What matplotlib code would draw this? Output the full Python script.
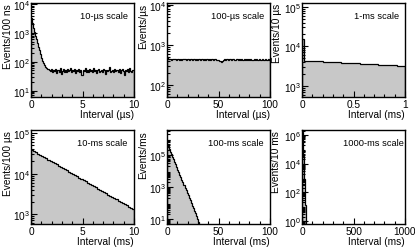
import numpy as np
import matplotlib
matplotlib.use("Agg")
import matplotlib.pyplot as plt
from matplotlib.ticker import LogLocator, FixedLocator, MultipleLocator, NullFormatter, LogFormatterMathtext

plt.rcParams['font.family'] = ['Liberation Sans', 'DejaVu Sans']
plt.rcParams['mathtext.default'] = 'regular'

# ---------------- data ----------------
# panel 1: 10-us scale, 100 ns bins
p1_counts = [3200, 2300, 1500, 1100, 800, 600, 450, 330, 250, 190,
             140, 110, 90, 75, 66, 60, 55, 52,
             48, 55, 44, 52, 47, 58, 41, 50, 53, 45,
             60, 38, 49, 55, 46, 51, 43, 57, 48, 52,
             62, 44, 50, 47, 56, 40, 53, 49, 58, 45,
             51, 36, 54, 48, 61, 46, 50, 43, 55, 49,
             52, 45, 59, 47, 53, 41, 50, 56, 44, 48,
             52, 46, 57, 50, 38, 54, 47, 51, 65, 45,
             49, 53, 44, 58, 48, 51, 46, 55, 42, 50,
             57, 47, 35, 52, 49, 56, 45, 60, 48, 44,
             53, 50]
p1_range = (0, 10)

# panel 2: 100-us scale, 1 us bins
p2_counts = [510, 445, 432, 440, 428, 436, 446, 430, 438, 425,
             441, 433, 428, 445, 420, 437, 430, 442, 426, 435,
             439, 428, 447, 431, 424, 436, 443, 429, 433, 421,
             438, 430, 426, 441, 434, 427, 439, 423, 432, 436,
             428, 444, 425, 433, 438, 422, 430, 435, 427, 419,
             405, 385, 372, 398, 420, 434, 428, 437, 441, 426,
             432, 439, 425, 430, 444, 428, 421, 436, 431, 427,
             438, 424, 433, 429, 418, 435, 427, 431, 422, 437,
             426, 433, 419, 428, 436, 424, 431, 418, 427, 434,
             425, 420, 432, 428, 416, 433, 426, 421, 430, 428]
p2_range = (0, 100)

# panel 3: 1-ms scale
p3_counts = [15000, 4370, 4340, 4310, 4280, 4255, 4225, 4200, 4170, 4145,
             4115, 4090, 4060, 4035, 4010, 3980, 3955, 3930, 3905, 3880,
             3855, 3830, 3805, 3780, 3755, 3730, 3705, 3680, 3660, 3635,
             3610, 3590, 3565, 3540, 3520, 3495, 3475, 3450, 3430, 3405,
             3385, 3360, 3340, 3320, 3300, 3275, 3255, 3235, 3215, 3195]
p3_range = (0, 1)

# panel 4: 10-ms scale
p4_counts = [38500, 35950, 33560, 31340, 29260, 27320, 25510, 23820, 22240, 20770,
             19390, 18100, 16900, 15780, 14740, 13760, 12850, 12000, 11200, 10460,
             9770, 9120, 8515, 7950, 7420, 6930, 6470, 6040, 5640, 5270,
             4920, 4590, 4290, 4000, 3740, 3490, 3260, 3040, 2840, 2650,
             2475, 2310, 2160, 2015, 1880, 1760, 1640, 1530, 1430, 1340]
p4_range = (0, 10)

# panel 5: 100-ms scale, 1 ms bins (non-empty part)
p5_counts = [490000, 339000, 234000, 162000, 112000, 77600, 53700, 37200, 25700, 17800,
             12300, 8510, 5890, 4070, 2820, 1950, 1350, 933, 646, 447,
             309, 214, 148, 102, 71, 49, 34, 23, 16, 11,
             7, 3, 1]
p5_range = (0, 33)

# panel 6: 1000-ms scale, 10 ms bins (non-empty part)
p6_counts = [1500000, 33000, 900, 12]
p6_range = (0, 40)

titles = ['10-\u00b5s scale', '100-\u00b5s scale', '1-ms scale',
          '10-ms scale', '100-ms scale', '1000-ms scale']
ylabels = ['Events/100 ns', 'Events/\u00b5s', 'Events/10 \u00b5s',
           'Events/100 \u00b5s', 'Events/ms', 'Events/10 ms']
xlabels = ['Interval (\u00b5s)', 'Interval (\u00b5s)', 'Interval (ms)',
           'Interval (ms)', 'Interval (ms)', 'Interval (ms)']
xlims = [(0, 10), (0, 100), (0, 1), (0, 10), (0, 100), (0, 1000)]
ylims = [(6, 1.1e4), (50, 1.1e4), (520, 1.25e5), (570, 1.2e5), (5, 3.6e6), (0.6, 2.2e6)]
xmajor = [5, 50, 0.5, 5, 50, 500]
xminor = [1, 10, 0.1, 1, 10, 100]
ymajor_fixed = [None, None, None, None, [1e1, 1e3, 1e5], [1e0, 1e2, 1e4, 1e6]]

counts = [p1_counts, p2_counts, p3_counts, p4_counts, p5_counts, p6_counts]
ranges = [p1_range, p2_range, p3_range, p4_range, p5_range, p6_range]

# ---------------- layout ----------------
W, H = 415, 251
fig = plt.figure(figsize=(W / 100, H / 100), dpi=100)
col_left = [31, 167, 302]
row_top = [4, 131]
aw, ah = 103, 94
text_x = [0.94, 0.94, 0.94, 0.94, 0.94, 0.985]
ylab_x = [-0.175, -0.18, -0.19, -0.175, -0.18, -0.2]

for i in range(6):
    r, c = divmod(i, 3)
    x0 = col_left[c]
    y0 = row_top[r]
    ax = fig.add_axes([x0 / W, 1 - (y0 + ah) / H, aw / W, ah / H])
    vals = np.asarray(counts[i], dtype=float)
    edges = np.linspace(ranges[i][0], ranges[i][1], len(vals) + 1)
    ax.set_yscale('log')
    ax.set_xlim(*xlims[i])
    ax.set_ylim(*ylims[i])
    base = ylims[i][0] * 0.5
    ax.stairs(vals, edges, baseline=base, fill=True, color='#c8c8c8', lw=0, zorder=1)
    ax.stairs(vals, edges, baseline=base, fill=False, color='black', lw=0.9, zorder=2)

    ax.xaxis.set_major_locator(MultipleLocator(xmajor[i]))
    ax.xaxis.set_minor_locator(MultipleLocator(xminor[i]))
    if ymajor_fixed[i] is None:
        ax.yaxis.set_major_locator(LogLocator(base=10, numticks=20))
    else:
        ax.yaxis.set_major_locator(FixedLocator(ymajor_fixed[i]))
    ax.yaxis.set_major_formatter(LogFormatterMathtext())
    ax.yaxis.set_minor_locator(LogLocator(base=10, subs=np.arange(2, 10), numticks=50))
    ax.yaxis.set_minor_formatter(NullFormatter())
    ax.xaxis.set_major_formatter(plt.FuncFormatter(lambda v, pos: '%g' % v))

    ax.tick_params(which='both', direction='in', top=False, right=False,
                   labelsize=7.3, width=0.8)
    ax.tick_params(axis='x', pad=1.5)
    ax.tick_params(axis='y', pad=0.8)
    ax.tick_params(which='major', length=4.5)
    ax.tick_params(which='minor', length=2.5)
    for sp in ax.spines.values():
        sp.set_linewidth(1.0)

    ax.set_xlabel(xlabels[i], loc='right', fontsize=7.3, labelpad=0)
    ax.set_ylabel(ylabels[i], loc='top', fontsize=7.3)
    ax.yaxis.set_label_coords(ylab_x[i], 1.0)
    ax.text(text_x[i], 0.91, titles[i], transform=ax.transAxes,
            ha='right', va='top', fontsize=6.7)

fig.savefig('out.png', dpi=100)
